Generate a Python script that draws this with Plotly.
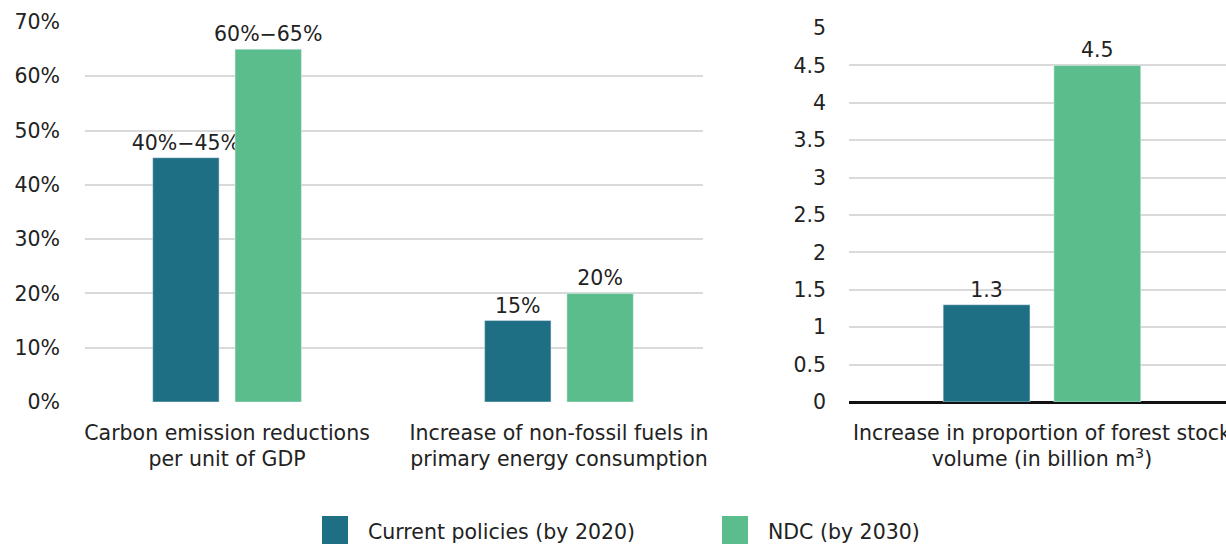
import plotly.graph_objects as go

# ---- data ----
left_categories = ["Carbon emission reductions<br>per unit of GDP",
                   "Increase of non-fossil fuels in<br>primary energy consumption"]
left_current = [45, 15]
left_ndc = [65, 20]
left_current_labels = ["40%\u221245%", "15%"]
left_ndc_labels = ["60%\u221265%", "20%"]

right_categories = ["Increase in proportion of forest stock<br>volume (in billion m<sup>3</sup>)"]
right_current = [1.3]
right_ndc = [4.5]
right_current_labels = ["1.3"]
right_ndc_labels = ["4.5"]

left_ticks = [0, 10, 20, 30, 40, 50, 60, 70]
left_ticktext = ["0%", "10%", "20%", "30%", "40%", "50%", "60%", "70%"]
right_ticks = [0, 0.5, 1, 1.5, 2, 2.5, 3, 3.5, 4, 4.5, 5]
right_ticktext = ["0", "0.5", "1", "1.5", "2", "2.5", "3", "3.5", "4", "4.5", "5"]

series_names = ["Current policies (by 2020)", "NDC (by 2030)"]
C_CUR = "#1f6f84"
C_NDC = "#5cbd8c"
TXT = "#222222"
FONT = "DejaVu Sans"
FS = 20.5

fig = go.Figure()

# left panel
fig.add_bar(x=left_categories, y=left_current, name=series_names[0], marker_color=C_CUR,
            width=0.2, offset=-0.224, text=left_current_labels, textposition="outside",
            constraintext="none", cliponaxis=False, textfont=dict(color=TXT, size=FS, family=FONT),
            xaxis="x", yaxis="y", showlegend=False)
fig.add_bar(x=left_categories, y=left_ndc, name=series_names[1], marker_color=C_NDC,
            width=0.2, offset=0.024, text=left_ndc_labels, textposition="outside",
            constraintext="none", cliponaxis=False, textfont=dict(color=TXT, size=FS, family=FONT),
            xaxis="x", yaxis="y", showlegend=False)

# right panel
fig.add_bar(x=right_categories, y=right_current, name=series_names[0], marker_color=C_CUR,
            width=0.225, offset=-0.256, text=right_current_labels, textposition="outside",
            constraintext="none", cliponaxis=False, textfont=dict(color=TXT, size=FS, family=FONT),
            xaxis="x2", yaxis="y2", showlegend=False)
fig.add_bar(x=right_categories, y=right_ndc, name=series_names[1], marker_color=C_NDC,
            width=0.225, offset=0.031, text=right_ndc_labels, textposition="outside",
            constraintext="none", cliponaxis=False, textfont=dict(color=TXT, size=FS, family=FONT),
            xaxis="x2", yaxis="y2", showlegend=False)

W, H = 1226, 544
fig.update_layout(
    width=W, height=H,
    margin=dict(l=0, r=0, t=22, b=142, autoexpand=False),
    paper_bgcolor="white", plot_bgcolor="white",
    font=dict(family=FONT, size=FS, color=TXT),
    barmode="overlay",
    xaxis=dict(domain=[85 / W, 703 / W], range=[-0.428, 1.434], showgrid=False,
               showline=False, ticks="", tickfont=dict(size=FS, color=TXT), zeroline=False,
               ticklabelstandoff=16, automargin=False),
    yaxis=dict(domain=[0, 1], range=[0, 70], tickvals=left_ticks, ticktext=left_ticktext,
               showgrid=True, gridcolor="#d9d9d9", gridwidth=1.5, zeroline=False,
               showline=False, ticks="", ticklabelstandoff=24, anchor="x",
               tickfont=dict(size=FS, color=TXT), automargin=False),
    xaxis2=dict(domain=[849 / W, 1.0], range=[-0.5, 0.477], showgrid=False,
                showline=False, ticks="", tickfont=dict(size=FS, color=TXT), anchor="y2",
                ticklabelstandoff=16, automargin=False),
    yaxis2=dict(domain=[0, (402 - 28) / 380], range=[0, 5], tickvals=right_ticks,
                ticktext=right_ticktext, showgrid=True, gridcolor="#d9d9d9", gridwidth=1.5,
                zeroline=True, zerolinecolor="#111111", zerolinewidth=2.5,
                showline=False, ticks="", ticklabelstandoff=22, anchor="x2",
                tickfont=dict(size=FS, color=TXT), automargin=False),
)

# legend drawn manually (large square swatches)
legend_items = [(series_names[0], C_CUR, 322), (series_names[1], C_NDC, 722)]
for name, col, x0 in legend_items:
    fig.add_shape(type="rect", xref="paper", yref="paper",
                  x0=x0 / W, x1=(x0 + 26) / W,
                  y0=(402 - 544) / 380, y1=(402 - 516) / 380,
                  fillcolor=col, line=dict(width=0))
    fig.add_annotation(xref="paper", yref="paper", x=(x0 + 44) / W, y=(402 - 532) / 380,
                       text=name, showarrow=False, xanchor="left", yanchor="middle",
                       font=dict(size=FS, color=TXT, family=FONT))

fig.write_html("out.html")
